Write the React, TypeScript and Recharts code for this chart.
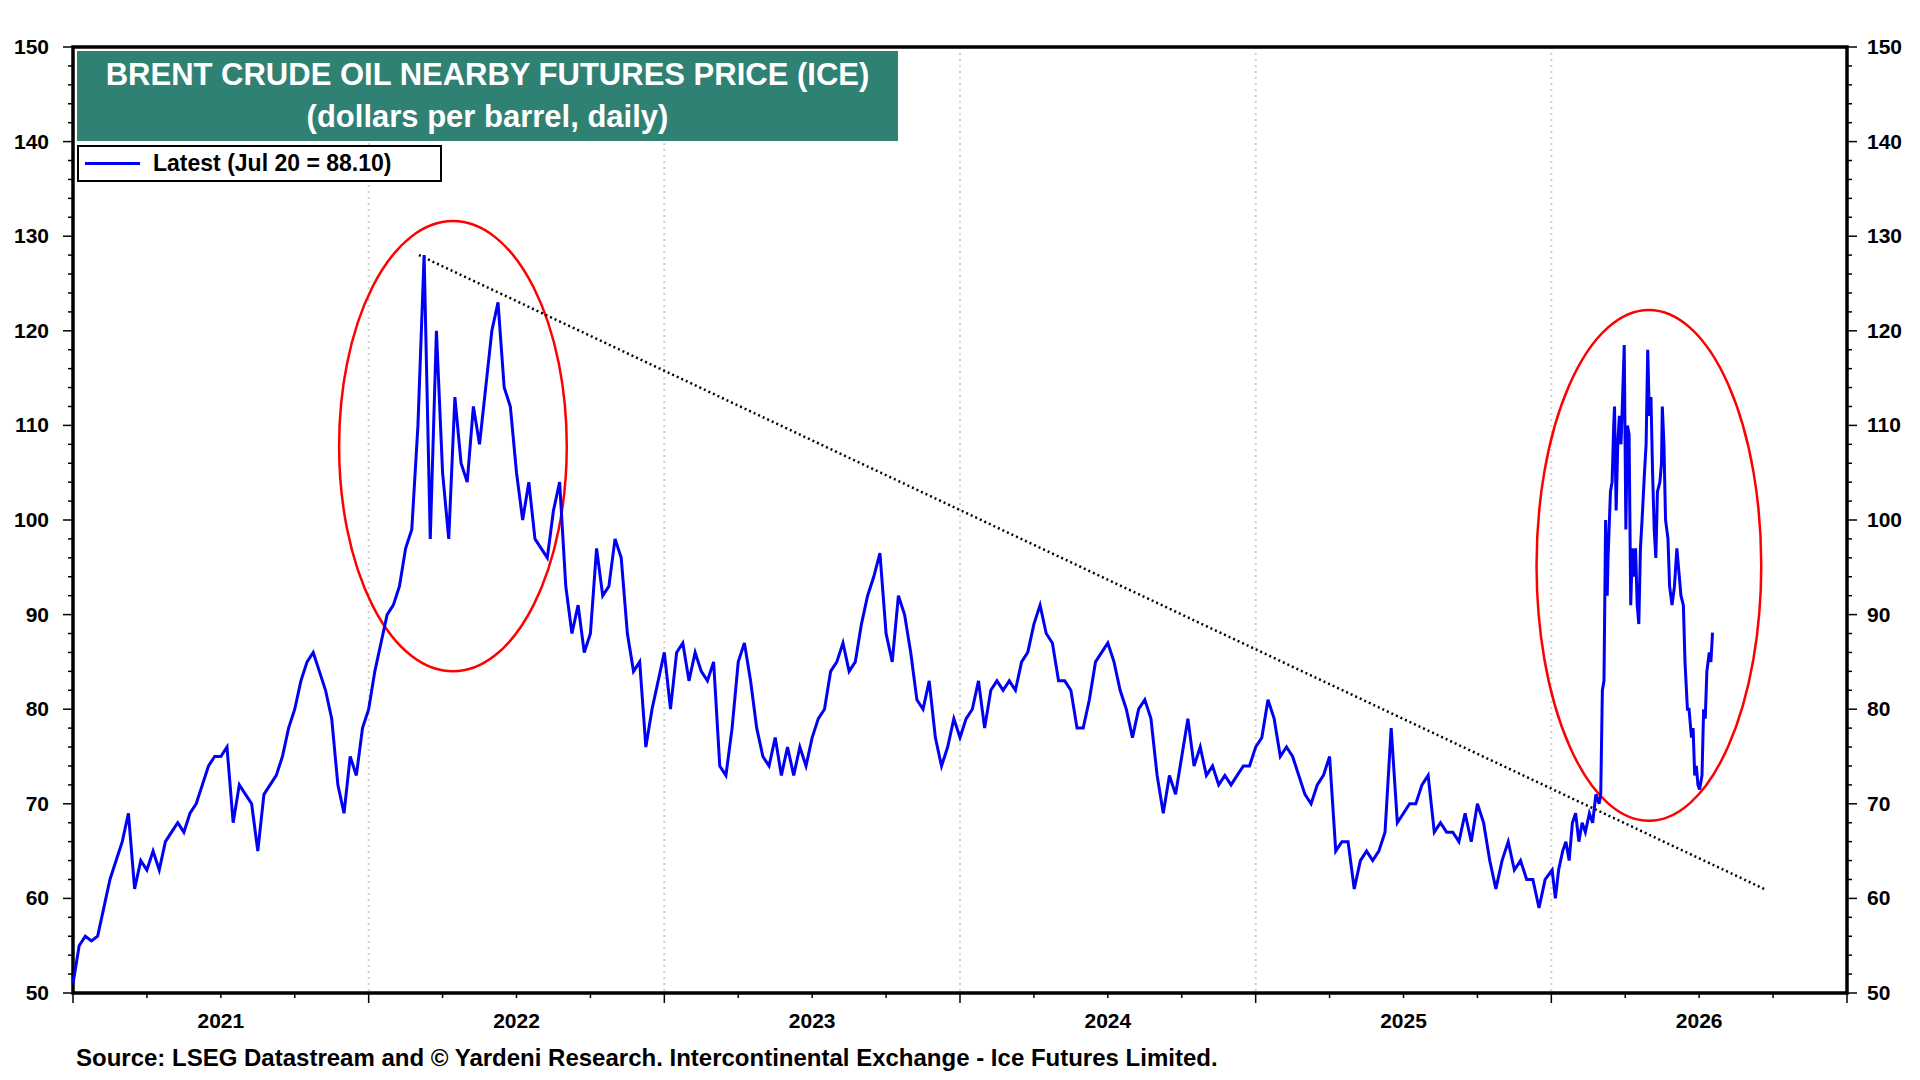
import React from 'react';
import { LineChart, Line, XAxis, YAxis, CartesianGrid, ReferenceLine, ReferenceArea } from 'recharts';

// weekly values (4 per month) by year
const p2021 = [51,55,56,55.5, 56,59,62,64, 66,69,61,64, 63,65,63,66, 67,68,67,69, 70,72,74,75, 75,76,68,72, 71,70,65,71, 72,73,75,78, 80,83,85,86, 84,82,79,72, 69,75,73,78];
const p2022 = [80,84,87,90, 91,93,97,99, 110,128,98,120, 105,98,113,106, 104,112,108,114, 120,123,114,112, 105,100,104,98, 97,96,101,104, 93,88,91,86, 88,97,92,93, 98,96,88,84, 85,76,80,83];
const p2023 = [86,80,86,87, 83,86,84,83, 85,74,73,78, 85,87,83,78, 75,74,77,73, 76,73,76,74, 77,79,80,84, 85,87,84,85, 89,92,94,96.5, 88,85,92,90, 86,81,80,83, 77,74,76,79];
const p2024 = [77,79,80,83, 78,82,83,82, 83,82,85,86, 89,91,88,87, 83,83,82,78, 78,81,85,86, 87,85,82,80, 77,80,81,79, 73,69,73,71, 75,79,74,76, 73,74,72,73, 72,73,74,74];
const p2025 = [76,77,81,79, 75,76,75,73, 71,70,72,73, 75,65,66,66, 61,64,65,64, 65,67,78,68, 69,70,70,72, 73,67,68,67, 67,66,69,66, 70,68,64,61, 64,66,63,64, 62,62,59,62];
// 2026: day of year and price
const days2026 = [1,5,9,14,18,22,26,30,34,38,42,47,51,55,59,61,63,65,67,69,70,73,75,77,78,80,82,84,86,88,90,92,94,96,98,100,102,104,106,108,110,112,115,117,119,121,123,125,127,129,131,134,136,137,139,141,144,146,149,152,155,157,160,163,165,168,170,173,175,177,179,181,183,186,188,190,192,195,197,199];
const p2026 = [63,60,63,65,66,64,68,69,66,68,67,69,68,71,70,71,82,83,100,92,96,103,104,110,112,101,108,111,108,113,118.5,99,110,109,91,97,94,97,91,89,97,100,105,108,118,111,113,105,99,96,103,104,106,112,108,100,98,93,91,93,97,95,92,91,85,80,80,77,78,73,74,72,71.5,73,80,79,84,86,85,88.1];

const yearBlocks: [number, number[]][] = [[2021, p2021], [2022, p2022], [2023, p2023], [2024, p2024], [2025, p2025]];
const data: { t: number; v: number }[] = [];
yearBlocks.forEach(([y, arr]) => arr.forEach((v, i) => data.push({ t: y + i / 48, v })));
days2026.forEach((d, i) => data.push({ t: 2026 + d / 365, v: p2026[i] }));

const yearTicks = [2021, 2022, 2023, 2024, 2025, 2026, 2027];
const yearLabels = ['2021', '2022', '2023', '2024', '2025', '2026'];
const xTicks: number[] = [];
for (let y = 2021; y <= 2027; y += 0.25) xTicks.push(y);
const yTicks: number[] = [];
for (let v = 50; v <= 150; v += 2) yTicks.push(v);
const yGrid = [60, 70, 80, 90, 100, 110, 120, 130, 140];
const trend = { x1: 2022.17, y1: 128, x2: 2026.72, y2: 61 };
const ellipse1 = { x1: 2021.9, x2: 2022.67, y1: 84.0, y2: 131.6 };
const ellipse2 = { x1: 2025.95, x2: 2026.71, y1: 68.2, y2: 122.2 };

const FONT = '"Liberation Sans", Arial, sans-serif';
const PLOT_W = 1774;

const XTick = (props: any) => {
  const { x, y, payload } = props;
  const t = payload.value;
  const major = Math.abs(t - Math.round(t)) < 1e-6;
  const idx = Math.round(t) - 2021;
  return (
    <g>
      <line x1={x} x2={x} y1={y - 8} y2={y + (major ? 2 : -3)} stroke="#000" strokeWidth={1.5} />
      {major && idx >= 0 && idx < yearLabels.length && (
        <text x={x + PLOT_W / 12} y={y + 27} textAnchor="middle" fontFamily={FONT} fontWeight="bold" fontSize={21} fill="#000">{yearLabels[idx]}</text>
      )}
    </g>
  );
};

const YTick = (props: any) => {
  const { x, y, payload, side } = props;
  const v = payload.value;
  const major = v % 10 === 0;
  const dir = side === 'left' ? -1 : 1;
  return (
    <g>
      <line x1={x - dir * 8} x2={x + dir * (major ? 2 : -3)} y1={y} y2={y} stroke="#000" strokeWidth={1.5} />
      {major && (
        <text x={side === 'left' ? x - 16 : x + 12} y={y + 7} textAnchor={side === 'left' ? 'end' : 'start'} fontFamily={FONT} fontWeight="bold" fontSize={21} fill="#000">{v}</text>
      )}
    </g>
  );
};

const Ellipse = (props: any) => {
  const { x, y, width, height } = props;
  return <ellipse cx={x + width / 2} cy={y + height / 2} rx={Math.abs(width) / 2} ry={Math.abs(height) / 2} fill="none" stroke="#ff0000" strokeWidth={2.5} />;
};

const Frame = (props: any) => {
  const { x, y, width, height } = props;
  return <rect x={x} y={y} width={width} height={height} fill="none" stroke="#000" strokeWidth={3.5} />;
};

export default function App() {
  return (
    <div style={{ position: 'absolute', left: 0, top: 0, width: 1920, height: 1080, background: '#fff', fontFamily: FONT }}>
      <LineChart width={1920} height={1080} data={data} margin={{ top: 47, right: 0, bottom: 47, left: 0 }}>
        <CartesianGrid stroke="#cfcfcf" strokeWidth={2} strokeDasharray="2 4" horizontalValues={yGrid} verticalValues={yearTicks.slice(1, 6)} />
        <XAxis dataKey="t" type="number" domain={[2021, 2027]} ticks={xTicks} interval={0} height={40} axisLine={false} tickLine={false} tick={<XTick />} />
        <YAxis yAxisId="l" domain={[50, 150]} ticks={yTicks} interval={0} width={73} axisLine={false} tickLine={false} tick={<YTick side="left" />} />
        <YAxis yAxisId="r" orientation="right" domain={[50, 150]} ticks={yTicks} interval={0} width={73} axisLine={false} tickLine={false} tick={<YTick side="right" />} />
        <ReferenceArea yAxisId="l" x1={ellipse1.x1} x2={ellipse1.x2} y1={ellipse1.y1} y2={ellipse1.y2} shape={<Ellipse />} />
        <ReferenceArea yAxisId="l" x1={ellipse2.x1} x2={ellipse2.x2} y1={ellipse2.y1} y2={ellipse2.y2} shape={<Ellipse />} />
        <ReferenceLine yAxisId="l" segment={[{ x: trend.x1, y: trend.y1 }, { x: trend.x2, y: trend.y2 }]} stroke="#000" strokeWidth={2.5} strokeDasharray="2 3" />
        <Line yAxisId="l" dataKey="v" stroke="#0000f5" strokeWidth={3} dot={false} isAnimationActive={false} />
        <Line yAxisId="r" dataKey="v" stroke="none" strokeWidth={0} dot={false} legendType="none" isAnimationActive={false} />
        <ReferenceArea yAxisId="r" x1={2021} x2={2027} y1={50} y2={150} shape={<Frame />} />
      </LineChart>
      <div style={{ position: 'absolute', left: 77, top: 51, width: 821, height: 90, background: '#2f8174', color: '#fff', fontWeight: 'bold', fontSize: 31, textAlign: 'center', lineHeight: '42px', paddingTop: 3, boxSizing: 'border-box' }}>
        <div>BRENT CRUDE OIL NEARBY FUTURES PRICE (ICE)</div>
        <div>(dollars per barrel, daily)</div>
      </div>
      <div style={{ position: 'absolute', left: 77, top: 145, width: 365, height: 37, border: '2.5px solid #000', boxSizing: 'border-box', background: '#fff', display: 'flex', alignItems: 'center' }}>
        <div style={{ width: 55, height: 2.5, background: '#0000f5', marginLeft: 6, marginRight: 13 }} />
        <span style={{ fontWeight: 'bold', fontSize: 23 }}>Latest (Jul 20 = 88.10)</span>
      </div>
      <div style={{ position: 'absolute', left: 76, top: 1044, fontWeight: 'bold', fontSize: 24 }}>
        Source: LSEG Datastream and © Yardeni Research. Intercontinental Exchange - Ice Futures Limited.
      </div>
    </div>
  );
}
